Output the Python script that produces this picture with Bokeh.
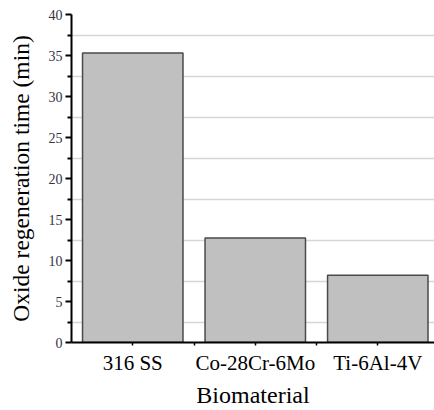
from bokeh.plotting import figure
from bokeh.models import FixedTicker, Range1d, ColumnDataSource
from bokeh.embed import file_html
from bokeh.resources import INLINE

# Oxide regeneration time per biomaterial
materials = ["316 SS", "Co-28Cr-6Mo", "Ti-6Al-4V"]
regen_time = [35.3, 12.75, 8.2]

y_major = [0, 5, 10, 15, 20, 25, 30, 35, 40]
y_minor = [2.5, 7.5, 12.5, 17.5, 22.5, 27.5, 32.5, 37.5]

positions = list(range(len(materials)))
src = ColumnDataSource(dict(x=positions, t=regen_time, name=materials))

SERIF = "Liberation Serif"

p = figure(width=434, height=410,
           x_range=Range1d(-0.5, 2.463), y_range=Range1d(0, 40),
           output_backend="svg", toolbar_location=None,
           min_border_left=71, min_border_right=0,
           min_border_top=14, min_border_bottom=68)
p.outline_line_color = None
p.background_fill_color = "white"
p.border_fill_color = "white"

p.vbar(x="x", top="t", bottom=0, width=0.82, source=src,
       fill_color="#c0c0c0", line_color="#4a4a4a", line_width=1.5)

# grid lines sit halfway between the labelled y ticks
p.xgrid.visible = False
p.ygrid.ticker = FixedTicker(ticks=y_minor)
p.ygrid.grid_line_color = "#d6d6d6"
p.ygrid.grid_line_width = 1.5

ya = p.yaxis[0]
ya.ticker = FixedTicker(ticks=y_major, minor_ticks=y_minor)
ya.axis_line_width = 2
ya.major_tick_line_width = 2
ya.minor_tick_line_width = 2
ya.major_tick_out = 6
ya.major_tick_in = 0
ya.minor_tick_out = 4
ya.minor_tick_in = 0
ya.major_label_text_font = SERIF
ya.major_label_text_font_size = "14px"
ya.major_label_text_color = "#333340"
ya.major_label_standoff = 3
ya.axis_label = "Oxide regeneration time (min)"
ya.axis_label_text_font = SERIF
ya.axis_label_text_font_size = "23.5px"
ya.axis_label_text_font_style = "normal"
ya.axis_label_text_color = "black"
ya.axis_label_standoff = 12

xa = p.xaxis[0]
xa.ticker = FixedTicker(ticks=positions, minor_ticks=[0.5, 1.5])
xa.major_label_overrides = {i: m for i, m in zip(positions, materials)}
xa.axis_line_width = 2
xa.major_tick_line_width = 1.5
xa.minor_tick_line_width = 1.5
xa.major_tick_out = 3
xa.major_tick_in = 0
xa.minor_tick_out = 3
xa.minor_tick_in = 0
xa.major_label_text_font = SERIF
xa.major_label_text_font_size = "21px"
xa.major_label_text_color = "black"
xa.major_label_standoff = 5
xa.axis_label = "Biomaterial"
xa.axis_label_text_font = SERIF
xa.axis_label_text_font_size = "24px"
xa.axis_label_text_font_style = "normal"
xa.axis_label_text_color = "black"
xa.axis_label_standoff = 4

open("out.html", "w").write(file_html(p, INLINE))
